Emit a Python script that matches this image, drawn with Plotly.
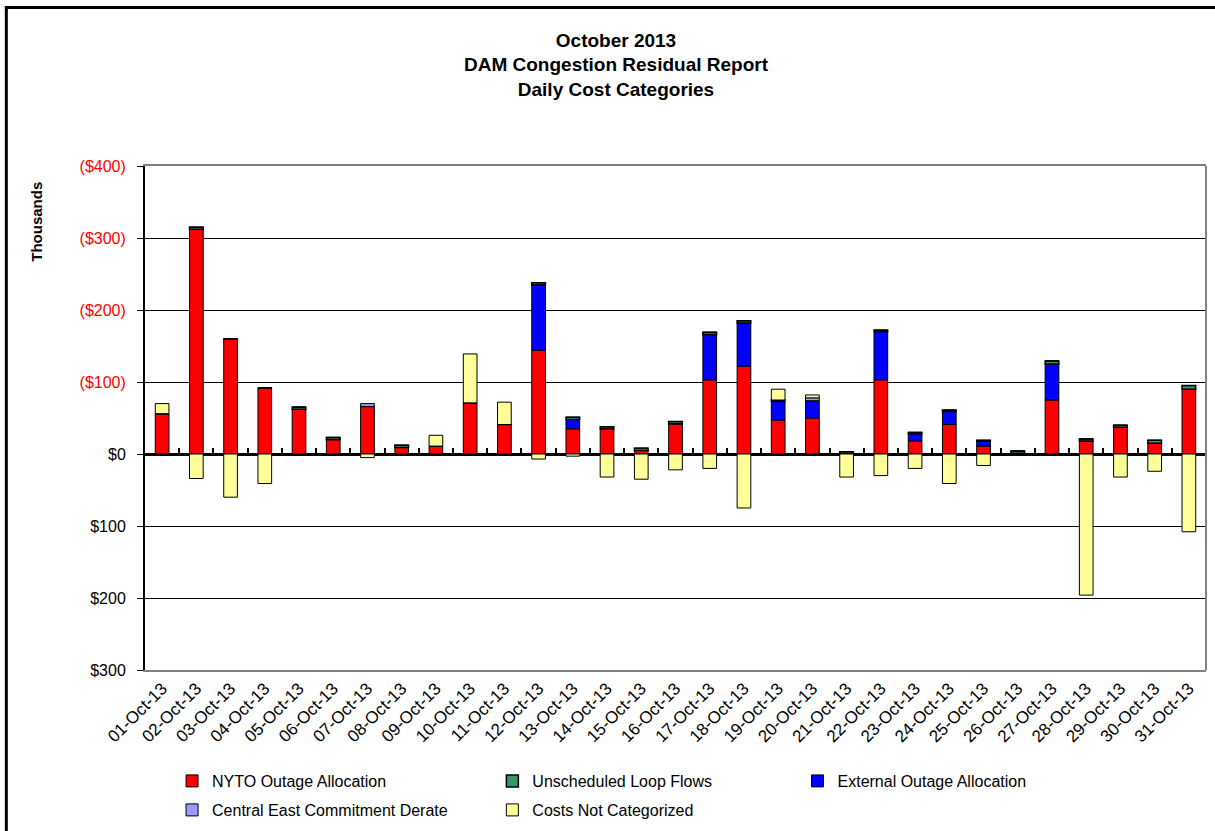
import plotly.graph_objects as go

days = ["%02d-Oct-13" % d for d in range(1, 32)]

nyto = [56, 312, 160, 92, 62, 20, 66, 9, 11, 71, 41, 144, 35, 35, 5, 42,
        103, 122, 47, 50, 0, 103, 18, 41, 11, 1, 75, 18, 37, 15, 90]
external = [0, 0, 0, 0, 0, 0, 0, 0, 0, 0, 0, 91, 13, 0, 0, 0,
            63, 60, 26, 24, 0, 67, 10, 18, 7, 0, 50, 0, 0, 0, 0]
loop_flows = [0, 3, 0, 0, 3, 3, 0, 3, 0, 0, 0, 3, 3, 3, 3, 3,
              3, 3, 2, 0, 3, 2, 2, 2, 1, 3, 4, 3, 3, 4, 5]
central_east = [0, 0, 0, 0, 0, 0, 4, 0, 0, 0, 0, 0, 0, 0, 0, 0,
                0, 0, 0, 4, 0, 0, 0, 0, 0, 0, 0, 0, 0, 0, 0]
not_categorized = [14, -34, -60, -41, 0, 0, -5, 0, 15, 68, 31, -7, -3, -32, -35, -22,
                   -20, -75, 15, 4, -32, -30, -20, -41, -16, 0, 0, -196, -32, -24, -108]

tick_vals = [400, 300, 200, 100, 0, -100, -200, -300]
tick_text = ['<span style="color:#FF0000">($400)</span>',
             '<span style="color:#FF0000">($300)</span>',
             '<span style="color:#FF0000">($200)</span>',
             '<span style="color:#FF0000">($100)</span>',
             "$0", "$100", "$200", "$300"]

# name, values, colour, legend box, outline width
series = [
    ("NYTO Outage Allocation", nyto, "#FF0000", "legend", 1),
    ("External Outage Allocation", external, "#0000FF", "legend3", 1),
    ("Unscheduled Loop Flows", loop_flows, "#339966", "legend2", 1.5),
    ("Central East Commitment Derate", central_east, "#9999FF", "legend4", 1),
    ("Costs Not Categorized", not_categorized, "#FFFF99", "legend5", 1),
]

fig = go.Figure()
for name, vals, color, leg, lw in series:
    fig.add_trace(go.Bar(x=days, y=vals, name=name, legend=leg,
                         marker=dict(color=color, line=dict(color="black", width=lw))))

# category boundary ticks along the zero line
fig.add_trace(go.Scatter(x=days, y=[0] * len(days), xaxis="x2", mode="markers",
                         marker=dict(opacity=0), showlegend=False, hoverinfo="skip"))

legend_common = dict(orientation="h", xref="paper", yref="container",
                     xanchor="left", yanchor="middle",
                     font=dict(size=16), itemwidth=30,
                     bgcolor="rgba(0,0,0,0)")
legend_pos = {"legend": (0.0255, 781), "legend2": (0.3274, 781), "legend3": (0.615, 781),
              "legend4": (0.0255, 810), "legend5": (0.3274, 810)}

fig.update_layout(
    width=1215, height=831,
    barmode="relative", bargap=0.6,
    paper_bgcolor="white", plot_bgcolor="white",
    font=dict(family="Liberation Sans, Arial, sans-serif", color="black", size=13),
    margin=dict(l=145, r=9, t=166, b=161, autoexpand=False),
    title=dict(text="<b>October 2013<br>DAM Congestion Residual Report<br>Daily Cost Categories</b>",
               x=0.507, xanchor="center", y=0.944, yanchor="top",
               font=dict(size=19)),
    xaxis=dict(type="category", categoryorder="array", categoryarray=days,
               range=[-0.5, len(days) - 0.5],
               tickangle=-45, showline=True, linecolor="#808080", linewidth=2, mirror=True,
               ticks="", showgrid=False, tickfont=dict(size=17), automargin=False),
    xaxis2=dict(type="category", categoryorder="array", categoryarray=days,
                range=[-0.5, len(days) - 0.5], overlaying="x", anchor="free",
                position=300 / 700, side="bottom",
                showline=False, showticklabels=False, ticks="inside", ticklen=6,
                tickwidth=1.5, tickcolor="black", tickson="boundaries", showgrid=False,
                zeroline=False, automargin=False),
    yaxis=dict(range=[-300, 400], tickvals=tick_vals, ticktext=tick_text,
               showgrid=True, gridcolor="black", gridwidth=1,
               zeroline=True, zerolinecolor="black", zerolinewidth=2.5,
               showline=True, linecolor="black", linewidth=2,
               ticks="outside", ticklen=6, tickcolor="black", ticklabelstandoff=8,
               tickfont=dict(size=16), automargin=False),
)
for key, (lx, ly) in legend_pos.items():
    fig.update_layout({key: dict(x=lx, y=1 - ly / 831, **legend_common)})

fig.add_annotation(text="<b>Thousands</b>", xref="paper", yref="paper",
                   x=-0.102, y=0.889, xanchor="center", yanchor="middle",
                   textangle=-90, showarrow=False, font=dict(size=15))

# plot area right edge
fig.add_shape(type="line", xref="paper", yref="paper", x0=1, x1=1, y0=0, y1=1,
              line=dict(color="#808080", width=2))
# outer chart frame (only left and top edges fall inside the canvas)
fig.add_shape(type="rect", xref="paper", yref="paper",
              x0=-0.1307, x1=1.05, y0=-0.4, y1=1.3145,
              line=dict(color="black", width=3))

fig.write_html("out.html", config={"displayModeBar": False},
               post_script="document.body.style.margin='0';")
